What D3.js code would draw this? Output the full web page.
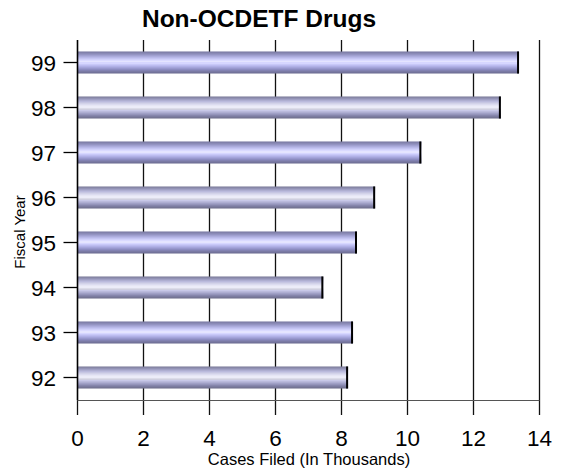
<!DOCTYPE html>
<html>
<head>
<meta charset="utf-8">
<script src="https://cdn.jsdelivr.net/npm/d3@7/dist/d3.min.js"></script>
<style>
  html, body { margin: 0; padding: 0; background: #fff; }
  svg { display: block; font-family: "Liberation Sans", Arial, sans-serif; }
</style>
</head>
<body>
<svg id="chart" width="561" height="469"></svg>
<script>
// Fiscal years, top to bottom
const years = ["99", "98", "97", "96", "95", "94", "93", "92"];
// Cases filed, in thousands
const cases = [13.38, 12.83, 10.42, 9.02, 8.47, 7.45, 8.35, 8.2];
const xTicks = [0, 2, 4, 6, 8, 10, 12, 14];

const title = "Non-OCDETF Drugs";
const xTitle = "Cases Filed (In Thousands)";
const yTitle = "Fiscal Year";

// Horizontal stripe shading for the bars (top to bottom)
const stripesBlue = ["#7676a0","#8080aa","#8a8ab6","#9494c2","#a0a0d0","#acacdc","#b8b8e8","#c4c4f2","#d0d0fa","#dadaff","#e4e4ff",
                     "#d6d6ff","#c8c8f8","#bcbcf0","#b0b0e6","#a4a4da","#9898ce","#8c8cc0","#8282b2","#7a7aa4","#72729a","#6c6c90"];
const stripesGray = ["#7a7a98","#8686a6","#9292b4","#a0a0c4","#aeaed0","#babadc","#c6c6e2","#d2d2e8","#dcdcf0","#e6e6f4","#ececf8",
                     "#dcdce8","#cfcfdf","#c8c8e8","#babadc","#aeaed2","#a0a0c6","#9494ba","#8686ac","#7c7ca0","#747494","#6c6c8a"];

const svg = d3.select("#chart");
const margin = { left: 77.5, right: 539.5, top: 40, bottom: 400 };

const x = d3.scaleLinear().domain([0, 14]).range([margin.left, margin.right]);
const y = d3.scaleBand().domain(years).range([margin.top, margin.bottom]).paddingInner(0.51).paddingOuter(0.255);

// Stripe gradients
const defs = svg.append("defs");
function stripeGradient(id, colors) {
  const g = defs.append("linearGradient").attr("id", id)
    .attr("x1", 0).attr("y1", 0).attr("x2", 0).attr("y2", 1);
  const n = colors.length;
  colors.forEach((c, i) => {
    g.append("stop").attr("offset", i / n).attr("stop-color", c);
    g.append("stop").attr("offset", (i + 1) / n).attr("stop-color", c);
  });
}
stripeGradient("stripeBlue", stripesBlue);
stripeGradient("stripeGray", stripesGray);

// Vertical gridlines, extending below the baseline as ticks
svg.append("g").selectAll("line").data(xTicks.slice(1)).join("line")
  .attr("x1", d => x(d)).attr("x2", d => x(d))
  .attr("y1", margin.top).attr("y2", margin.bottom + 15)
  .attr("stroke", "#111").attr("stroke-width", 1.3);

// Zero tick below baseline
svg.append("line")
  .attr("x1", x(0)).attr("x2", x(0))
  .attr("y1", margin.bottom).attr("y2", margin.bottom + 15)
  .attr("stroke", "#111").attr("stroke-width", 1.3);

// Baseline
svg.append("line")
  .attr("x1", x(0)).attr("x2", x(14))
  .attr("y1", margin.bottom + 0.5).attr("y2", margin.bottom + 0.5)
  .attr("stroke", "#555").attr("stroke-width", 1.2);

// Bars
const bars = svg.append("g").selectAll("g").data(years).join("g");
bars.append("rect")
  .attr("x", x(0))
  .attr("y", d => y(d))
  .attr("width", (d, i) => x(cases[i]) - x(0))
  .attr("height", y.bandwidth())
  .attr("fill", (d, i) => i % 2 === 0 ? "url(#stripeBlue)" : "url(#stripeGray)");
// Dark cap at the end of each bar
bars.append("line")
  .attr("x1", (d, i) => x(cases[i]) - 1).attr("x2", (d, i) => x(cases[i]) - 1)
  .attr("y1", d => y(d)).attr("y2", d => y(d) + y.bandwidth())
  .attr("stroke", "#000").attr("stroke-width", 2);

// Left axis line and year ticks
svg.append("line")
  .attr("x1", x(0)).attr("x2", x(0))
  .attr("y1", margin.top).attr("y2", margin.bottom)
  .attr("stroke", "#000").attr("stroke-width", 1.6);

svg.append("g").selectAll("line").data(years).join("line")
  .attr("x1", x(0) - 14).attr("x2", x(0))
  .attr("y1", d => y(d) + y.bandwidth() / 2).attr("y2", d => y(d) + y.bandwidth() / 2)
  .attr("stroke", "#000").attr("stroke-width", 1.3);

svg.append("g").selectAll("text").data(years).join("text")
  .attr("x", 56)
  .attr("y", d => y(d) + y.bandwidth() / 2 + 8)
  .attr("text-anchor", "end")
  .attr("font-size", 22.5)
  .attr("fill", "#000")
  .text(d => d);

// X tick labels
svg.append("g").selectAll("text").data(xTicks).join("text")
  .attr("x", d => x(d))
  .attr("y", 445.5)
  .attr("text-anchor", "middle")
  .attr("font-size", 22.5)
  .attr("fill", "#000")
  .text(d => d);

// Titles
svg.append("text")
  .attr("x", 259).attr("y", 27)
  .attr("text-anchor", "middle")
  .attr("font-size", 24.5).attr("font-weight", "bold")
  .text(title);

svg.append("text")
  .attr("x", 309).attr("y", 465)
  .attr("text-anchor", "middle")
  .attr("font-size", 16.5)
  .text(xTitle);

svg.append("text")
  .attr("transform", "translate(25,232) rotate(-90)")
  .attr("text-anchor", "middle")
  .attr("font-size", 15)
  .text(yTitle);
</script>
</body>
</html>
